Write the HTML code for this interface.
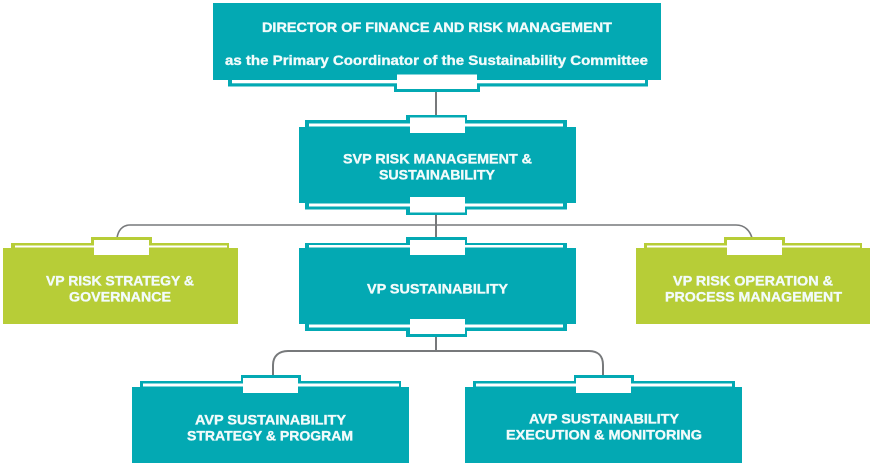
<!DOCTYPE html>
<html>
<head>
<meta charset="utf-8">
<style>
html,body{margin:0;padding:0;background:#fff;width:873px;height:467px;overflow:hidden}
svg{display:block;filter:blur(.3px)}
text{font-family:"Liberation Sans",sans-serif;font-weight:bold;font-size:14px;fill:#f2fbfb;stroke:#f2fbfb;stroke-width:.35px}
</style>
</head>
<body>
<svg width="873" height="467" viewBox="0 0 873 467" xmlns="http://www.w3.org/2000/svg">
<rect width="873" height="467" fill="#fff"/>

<!-- connectors -->
<g fill="none" stroke="#77797b" stroke-width="2">
  <path d="M436 90V116"/>
  <path d="M436 213V238"/>
  <path d="M117 238C118 231 122 225 130 225H736C745 225 750 231 752 238" stroke-width="1.6"/>
  <path d="M436 335V351"/>
  <path d="M273 376V365C273 356 279 351 288 351H589C598 351 603 356 603 365V376"/>
</g>

<!-- Director -->
<g fill="#03a9b3">
  <rect x="213" y="3" width="448" height="77"/>
  <rect x="228" y="80" width="420" height="6.5"/>
  <rect x="394" y="74" width="86" height="18"/>
</g>
<rect x="232" y="80" width="413" height="3.3" fill="#fff"/>
<rect x="397" y="74.500" width="80" height="14.500" fill="#fff"/>

<!-- SVP -->
<g fill="#03a9b3">
  <rect x="299" y="127" width="277" height="76"/>
  <rect x="305" y="120" width="262" height="7"/>
  <rect x="305" y="203" width="262" height="6.500"/>
  <rect x="406" y="115" width="61" height="18"/>
  <rect x="406" y="197" width="61" height="18"/>
</g>
<g fill="#fff">
  <rect x="309" y="123.500" width="254" height="3"/>
  <rect x="309" y="203.500" width="254" height="3"/>
  <rect x="410" y="117.500" width="55" height="15.500"/>
  <rect x="410" y="197" width="55" height="15.500"/>
</g>

<!-- VP Sustainability -->
<g fill="#03a9b3">
  <rect x="299" y="248" width="277" height="76"/>
  <rect x="305" y="243" width="262" height="5"/>
  <rect x="305" y="324" width="262" height="7"/>
  <rect x="406" y="237" width="61" height="18"/>
  <rect x="406" y="319" width="61" height="18"/>
</g>
<g fill="#fff">
  <rect x="309" y="245" width="254" height="2.500"/>
  <rect x="309" y="324.500" width="254" height="3"/>
  <rect x="410" y="240" width="55" height="15"/>
  <rect x="410" y="319" width="55" height="15"/>
</g>

<!-- VP Risk Strategy -->
<g fill="#b7cd37">
  <rect x="3" y="248" width="235" height="76"/>
  <rect x="11" y="243" width="218" height="5"/>
  <rect x="91" y="237" width="61" height="18"/>
</g>
<g fill="#fff">
  <rect x="15" y="245.500" width="212" height="2"/>
  <rect x="94" y="240" width="55" height="15"/>
</g>

<!-- VP Risk Operation -->
<g fill="#b7cd37">
  <rect x="636" y="248" width="234" height="76"/>
  <rect x="644" y="243" width="218" height="5"/>
  <rect x="724" y="237" width="61" height="18"/>
</g>
<g fill="#fff">
  <rect x="647" y="245.500" width="213" height="2"/>
  <rect x="727" y="240" width="55" height="15"/>
</g>

<!-- AVP left -->
<g fill="#03a9b3">
  <rect x="132" y="387" width="277" height="76"/>
  <rect x="140" y="381" width="261" height="6"/>
  <rect x="241" y="375" width="60" height="18"/>
</g>
<g fill="#fff">
  <rect x="143" y="383.500" width="256" height="3"/>
  <rect x="243" y="378" width="55" height="15"/>
</g>

<!-- AVP right -->
<g fill="#03a9b3">
  <rect x="465" y="387" width="277" height="76"/>
  <rect x="473" y="381" width="262" height="6"/>
  <rect x="574" y="375" width="60" height="18"/>
</g>
<g fill="#fff">
  <rect x="476" y="383.500" width="256" height="3"/>
  <rect x="576" y="378" width="55" height="15"/>
</g>

<!-- labels -->
<text x="262" y="32" textLength="350" lengthAdjust="spacingAndGlyphs">DIRECTOR OF FINANCE AND RISK MANAGEMENT</text>
<text x="225" y="65" textLength="423" lengthAdjust="spacingAndGlyphs">as the Primary Coordinator of the Sustainability Committee</text>
<text x="343" y="163.500" textLength="189" lengthAdjust="spacingAndGlyphs">SVP RISK MANAGEMENT &amp;</text>
<text x="379" y="179.500" textLength="116" lengthAdjust="spacingAndGlyphs">SUSTAINABILITY</text>
<text x="46" y="285.500" textLength="148" lengthAdjust="spacingAndGlyphs">VP RISK STRATEGY &amp;</text>
<text x="69" y="301.500" textLength="102" lengthAdjust="spacingAndGlyphs">GOVERNANCE</text>
<text x="367" y="293.500" textLength="141" lengthAdjust="spacingAndGlyphs">VP SUSTAINABILITY</text>
<text x="673" y="285.500" textLength="160" lengthAdjust="spacingAndGlyphs">VP RISK OPERATION &amp;</text>
<text x="665" y="301.500" textLength="177" lengthAdjust="spacingAndGlyphs">PROCESS MANAGEMENT</text>
<text x="195" y="424.500" textLength="151" lengthAdjust="spacingAndGlyphs">AVP SUSTAINABILITY</text>
<text x="187" y="440.500" textLength="166" lengthAdjust="spacingAndGlyphs">STRATEGY &amp; PROGRAM</text>
<text x="529" y="423.500" textLength="150" lengthAdjust="spacingAndGlyphs">AVP SUSTAINABILITY</text>
<text x="506" y="439.500" textLength="196" lengthAdjust="spacingAndGlyphs">EXECUTION &amp; MONITORING</text>
</svg>
</body>
</html>
